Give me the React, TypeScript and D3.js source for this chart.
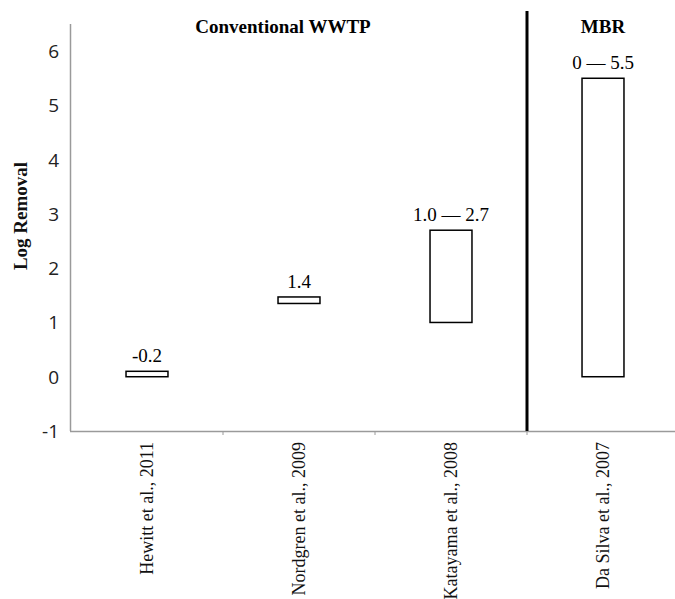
import React from 'react';
import * as d3 from 'd3';

// data
const studies = ['Hewitt et al., 2011', 'Nordgren et al., 2009', 'Katayama et al., 2008', 'Da Silva et al., 2007'];
const lowValues = [0, 1.35, 1.0, 0];
const highValues = [0.1, 1.47, 2.7, 5.5];
const rangeLabels = ['-0.2', '1.4', '1.0 \u2014 2.7', '0 \u2014 5.5'];
const yTicks = [-1, 0, 1, 2, 3, 4, 5, 6];
const groupTitles = ['Conventional WWTP', 'MBR'];

export default function App() {
  const width = 675;
  const height = 599;

  const x = d3.scaleBand<string>()
    .domain(studies)
    .range([71, 679])
    .padding(0);

  const y = d3.scaleLinear()
    .domain([-1, 6.5])
    .range([431, 24]);

  const barW = x.bandwidth() * 0.276;
  const axisColor = '#9a9a9a';
  const serif = '"Liberation Serif", "Times New Roman", serif';

  // divider between the two groups sits on the last tick boundary
  const dividerX = x(studies[3]) as number;
  const convCenter = ((x(studies[0]) as number) + dividerX) / 2 - 16;
  const mbrCenter = (x(studies[3]) as number) + x.bandwidth() / 2;

  return (
    <svg width={width} height={height} style={{ position: 'absolute', left: 0, top: 0, background: '#fff' }}>
      {/* y axis line */}
      <line x1={70.5} x2={70.5} y1={y(6.5)} y2={y(-1)} stroke={axisColor} strokeWidth={1.5} />
      {yTicks.map(t => (
        <text key={t} x={59} y={y(t)} dy="0.36em" textAnchor="end"
          fontFamily="'Open Sans', Lato, sans-serif" fontSize={19} fill="#222">{t}</text>
      ))}
      <text transform={`translate(20, 216) rotate(-90)`} textAnchor="middle" dy="0.35em"
        fontFamily={serif} fontWeight="bold" fontSize={19} fill="#111">Log Removal</text>

      {/* x axis line and ticks */}
      <line x1={70} x2={width} y1={y(-1) + 0.5} y2={y(-1) + 0.5} stroke={axisColor} strokeWidth={1.5} />
      {studies.slice(1).map(s => (
        <line key={s} x1={x(s)} x2={x(s)} y1={y(-1)} y2={y(-1) + 4} stroke={axisColor} strokeWidth={1} />
      ))}
      {studies.map(s => (
        <text key={s}
          transform={`translate(${(x(s) as number) + x.bandwidth() / 2}, 442) rotate(-90)`}
          textAnchor="end" dy="0.35em" fontFamily={serif} fontSize={18} fill="#111">{s}</text>
      ))}

      {/* group divider */}
      <line x1={dividerX} x2={dividerX} y1={11} y2={y(-1)} stroke="#000" strokeWidth={3} />
      <text x={convCenter} y={33} textAnchor="middle" fontFamily={serif} fontWeight="bold" fontSize={19} fill="#000">{groupTitles[0]}</text>
      <text x={mbrCenter} y={33} textAnchor="middle" fontFamily={serif} fontWeight="bold" fontSize={19} fill="#000">{groupTitles[1]}</text>

      {/* floating range bars */}
      {studies.map((s, i) => {
        const cx = (x(s) as number) + x.bandwidth() / 2;
        const top = y(highValues[i]);
        const bottom = y(lowValues[i]);
        return (
          <g key={s}>
            <rect x={cx - barW / 2} y={top} width={barW} height={bottom - top}
              fill="#fff" stroke="#000" strokeWidth={1.5} />
            <text x={cx} y={top - 9} textAnchor="middle" fontFamily={serif} fontSize={19} fill="#000">{rangeLabels[i]}</text>
          </g>
        );
      })}
    </svg>
  );
}
